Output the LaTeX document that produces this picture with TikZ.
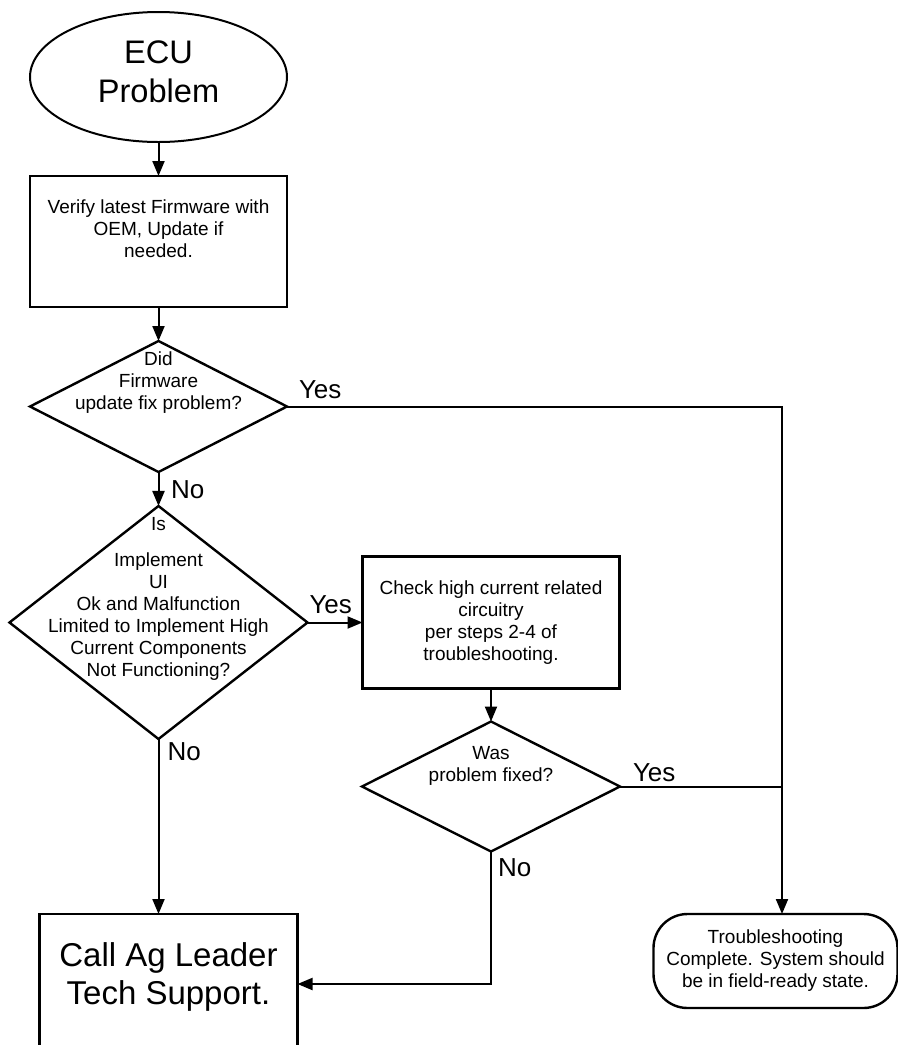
\documentclass[tikz,border=0pt]{standalone}
\usepackage{fontspec}
\setmainfont{Liberation Sans}
\usepackage{tikz}
\usetikzlibrary{arrows.meta,positioning,shapes.geometric}

\begin{document}
\begin{tikzpicture}[
  node distance=17pt and 27.5pt,
  terminal/.style={draw=black, ellipse, line width=1pt,
                   minimum width=128.5pt, minimum height=65pt, outer sep=0pt},
  action/.style={draw=black, line width=1.3pt, align=center,
                 minimum width=128.5pt, minimum height=65.5pt, outer sep=0pt,
                 inner sep=3pt, font=\fontsize{9.5}{11}\selectfont},
  decision/.style={draw=black, diamond, line width=1.2pt, inner sep=0pt,
                   minimum width=128.5pt, minimum height=65.5pt, outer sep=0pt},
  qtext/.style={align=center, inner sep=0pt, font=\fontsize{9.5}{11}\selectfont},
  bigtext/.style={align=center, inner sep=0pt, font=\fontsize{16.5}{19}\selectfont},
  finish/.style={draw=black, line width=1.2pt, rounded corners=17pt, align=center,
                 minimum width=122pt, minimum height=47pt, inner sep=2pt, outer sep=0pt,
                 font=\fontsize{9.5}{11}\selectfont},
  tag/.style={inner sep=0pt, font=\fontsize{13}{15}\selectfont},
  arrow/.style={-{Triangle[length=7.5pt,width=6pt]}, line width=1pt, draw=black},
  link/.style={line width=1pt, draw=black}
]
  \useasboundingbox (0,0) rectangle (449pt,-522.5pt);

  \node[terminal, label={[bigtext, font=\fontsize{16.3}{19.5}\selectfont, yshift=2.75pt]center:{ECU\\Problem}}]
    (start) at (79.25pt,-38.5pt) {};
  \node[action, below=of start,
        label={[qtext, yshift=6.25pt]center:{Verify latest Firmware with\\OEM, Update if\\needed.}}]
    (firmware) {};
  \node[decision, below=of firmware,
        label={[qtext, yshift=11.75pt]center:{Did\\Firmware\\update fix problem?}}]
    (fixed1) {};
  \node[decision, below=of fixed1, minimum width=149pt, minimum height=116.5pt,
        label={[qtext, yshift=11.75pt]center:{Is\\[7pt]Implement\\UI\\Ok and Malfunction\\Limited to Implement High\\Current Components\\Not Functioning?}}]
    (implok) {};
  \node[action, right=of implok, minimum width=128.5pt, minimum height=66pt]
    (check) {Check high current related\\circuitry\\per steps 2-4 of\\troubleshooting.};
  \node[decision, below=16.5pt of check, minimum width=129pt, minimum height=65pt,
        label={[qtext, yshift=10.5pt]center:{Was\\problem fixed?}}]
    (fixed2) {};
  \node[action, below=87.5pt of implok, xshift=5pt, minimum width=129pt, minimum height=70pt,
        label={[bigtext, yshift=3.75pt]center:{Call Ag Leader\\Tech Support.}}]
    (call) {};
  \node[finish, right=178pt of call.north east, anchor=north west]
    (done) {Troubleshooting\\Complete. System should\\be in field-ready state.};

  \coordinate[right=247.5pt of fixed1.east] (merge);

  \draw[arrow] (start) -- (firmware);
  \draw[arrow] (firmware) -- (fixed1);
  \draw[arrow] (fixed1) -- node[tag, at start, anchor=base west, xshift=5.75pt, yshift=-13pt] {No} (implok);
  \draw[arrow] (fixed1.east) -- node[tag, at start, anchor=base west, xshift=5.5pt, yshift=4pt] {Yes} (merge)
    -- (merge |- done.north);
  \draw[arrow] (implok.east) -- node[tag, at start, anchor=base west, xshift=0.5pt, yshift=4.5pt] {Yes} (check.west);
  \draw[arrow] (check) -- (fixed2);
  \draw[link] (fixed2.east) -- node[tag, at start, anchor=base west, xshift=6pt, yshift=2.5pt] {Yes} (fixed2.east -| merge);
  \draw[arrow] (implok.south) -- node[tag, at start, anchor=base west, xshift=4pt, yshift=-10.5pt] {No} (implok.south |- call.north);
  \draw[arrow] (fixed2.south) -- node[tag, at start, anchor=base west, xshift=3pt, yshift=-12.5pt] {No} (fixed2.south |- call.east)
    -- (call.east);
\end{tikzpicture}
\end{document}
